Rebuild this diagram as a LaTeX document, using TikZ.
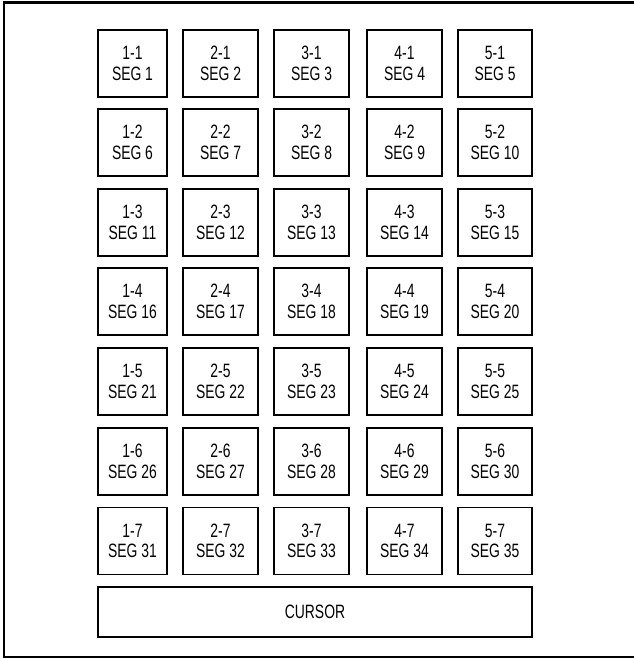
\documentclass[tikz,border=0pt]{standalone}
\usepackage{fontspec}
\setmainfont{Liberation Sans}[FakeStretch=0.72]
\begin{document}
\begin{tikzpicture}[x=0.02cm, y=-0.02cm,
    segbox/.style={draw, line width=1.1pt, minimum height=1.34cm, inner sep=0pt,
      align=center, font=\fontsize{11}{11.6}\selectfont}]
    \useasboundingbox (0,0) rectangle (633,659);
    % outer frame (right side runs off the page)
    \draw[line width=1.3pt] (640,2.5) -- (4,2.5) -- (4,657) -- (640,657);

    % segment grid: column/centre x/width, row/centre y
    \foreach \c/\cx/\w in {1/132.5/69, 2/220.5/75, 3/311.5/75, 4/404.5/75, 5/495/74}
      \foreach \r/\ry in {1/63.5, 2/142.5, 3/222.5, 4/301.5, 5/381.5, 6/461.5, 7/541}{
        \pgfmathtruncatemacro{\s}{(\r-1)*5+\c}
        \node[segbox, minimum width=\w*0.02cm] (seg\s) at (\cx,\ry) {\c-\r\\SEG \s};
      }

    % cursor row
    \node[segbox, minimum width=8.68cm, minimum height=1cm] (cursor) at (315,612) {CURSOR};
\end{tikzpicture}
\end{document}
